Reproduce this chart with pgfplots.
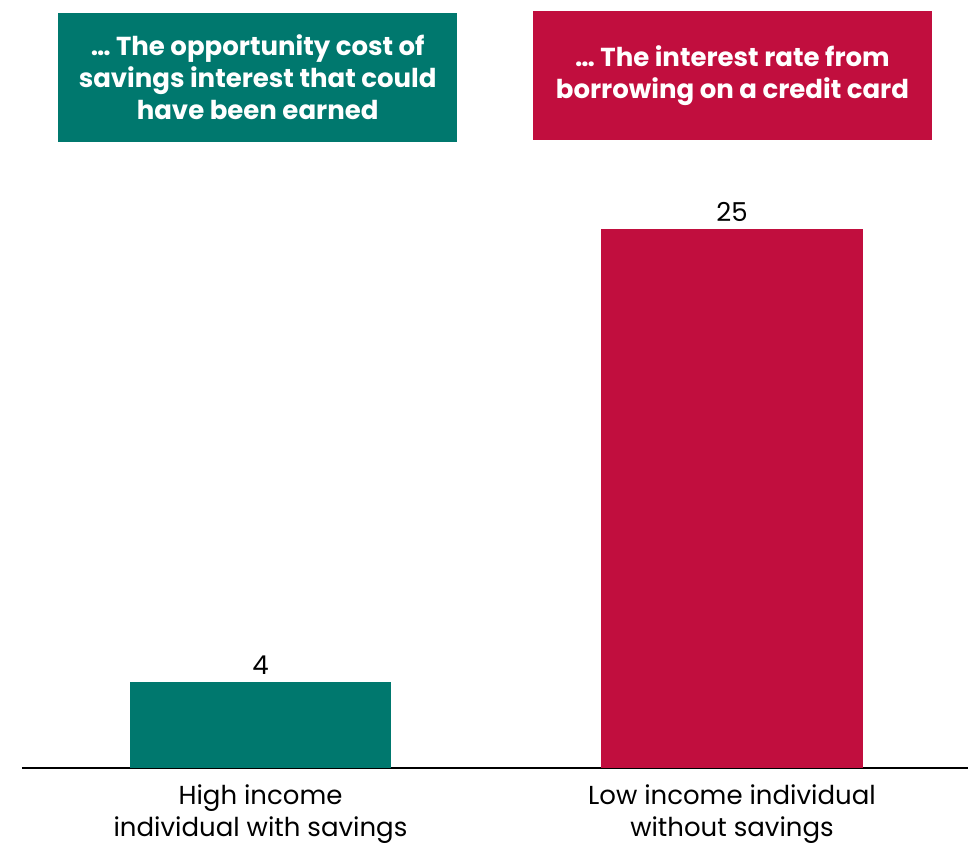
\documentclass[border=0pt]{standalone}
\usepackage{pgfplots}
\pgfplotsset{compat=1.18}
\usepackage{fontspec}
\setmainfont{Poppins}
\definecolor{tealc}{RGB}{0,120,110}
\definecolor{crim}{RGB}{193,14,62}
\begin{document}
\begin{tikzpicture}
\begin{axis}[
  scale only axis,
  width=473pt, height=384pt,
  xmin=-0.506, xmax=1.5005,
  ymin=0, ymax=35.6,
  axis x line=bottom, axis y line=none,
  axis line style={-, line width=1pt, black},
  xtick={0,1},
  xticklabels={{High income\\individual with savings},{Low income individual\\without savings}},
  xticklabel style={align=center, font=\fontsize{13}{16}\selectfont, yshift=-5pt},
  major tick length=0pt,
  /pgf/number format/assume math mode=true,
  ybar, bar width=0.554, bar shift=0pt,
  nodes near coords,
  nodes near coords style={font=\fontsize{13}{16}\selectfont, black, yshift=0pt},
  clip=false,
]
\addplot[fill=tealc, draw=none] coordinates {(0,4)};
\addplot[fill=crim, draw=none] coordinates {(1,25)};
\node[fill=tealc, minimum width=199.5pt, minimum height=64.5pt, text=white, align=center, font=\fontsize{13}{16}\selectfont\bfseries, inner sep=0pt] at (axis cs:-0.006,32.0) {… The opportunity cost of\\savings interest that could\\have been earned};
\node[fill=crim, minimum width=199.5pt, minimum height=64.5pt, text=white, align=center, font=\fontsize{13}{16}\selectfont\bfseries, inner sep=0pt] at (axis cs:1.001,32.1) {… The interest rate from\\borrowing on a credit card};
\coordinate (bl) at (axis cs:-0.5525,-3.8);
\coordinate (tr) at (axis cs:1.5133,35.6);
\end{axis}
\pgfresetboundingbox
\path (bl) rectangle (tr);
\end{tikzpicture}
\end{document}
